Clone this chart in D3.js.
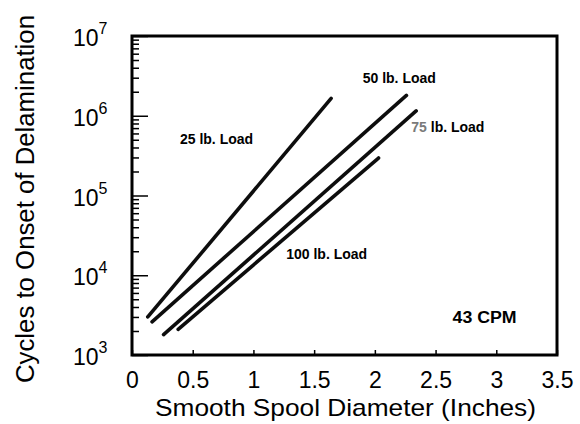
<!DOCTYPE html>
<html>
<head>
<meta charset="utf-8">
<script src="https://cdn.jsdelivr.net/npm/d3@7"></script>
<style>
    body { margin: 0; background: #fff; }
    svg { display: block; font-family: "Liberation Sans", Arial, Helvetica, sans-serif; }
    .axis text { fill: #000; }
    .load-label { font-weight: bold; font-size: 14px; }
</style>
</head>
<body>
<svg id="chart"></svg>
<script>
// Data (log y axis)
const loads = ["25 lb. Load", "50 lb. Load", "75 lb. Load", "100 lb. Load"];
const startDiameter = [0.13, 0.165, 0.26, 0.38];
const endDiameter = [1.64, 2.26, 2.34, 2.03];
const startCycles = [3000, 2600, 1800, 2100];
const endCycles = [1650000, 1800000, 1150000, 295000];

const xTicks = [0, 0.5, 1, 1.5, 2, 2.5, 3, 3.5];
const yDecades = [1e3, 1e4, 1e5, 1e6, 1e7];
const yExponents = ["3", "4", "5", "6", "7"];

class SpoolChart {
    constructor(_config) {
        this.config = {
            parentElement: _config.parentElement,
            containerWidth: _config.containerWidth || 580,
            containerHeight: _config.containerHeight || 424,
            margin: { top: 36, right: 23, bottom: 69, left: 132 },
        };
        this.initVis();
    }

    initVis() {
        let vis = this;

        vis.width = vis.config.containerWidth - vis.config.margin.left - vis.config.margin.right;
        vis.height = vis.config.containerHeight - vis.config.margin.top - vis.config.margin.bottom;

        vis.xScale = d3.scaleLinear().domain([0, 3.5]).range([0, vis.width]);
        vis.yScale = d3.scaleLog().domain([1e3, 1e7]).range([vis.height, 0]);

        vis.svg = d3.select(vis.config.parentElement)
            .attr("width", vis.config.containerWidth)
            .attr("height", vis.config.containerHeight);

        // slight blur, the lines in the scan are soft
        vis.svg.append("defs").append("filter")
            .attr("id", "soft")
            .append("feGaussianBlur")
            .attr("stdDeviation", 0.6);

        vis.chart = vis.svg.append("g")
            .attr("transform", `translate(${vis.config.margin.left},${vis.config.margin.top})`);

        vis.xAxisG = vis.chart.append("g")
            .attr("class", "axis x-axis")
            .attr("transform", `translate(0,${vis.height})`);

        vis.yAxisG = vis.chart.append("g").attr("class", "axis y-axis");

        // Axis titles (the scan is a bit wide, so stretch glyphs to its width)
        vis.svg.append("text")
            .attr("x", 155)
            .attr("y", 416)
            .attr("textLength", 381)
            .attr("lengthAdjust", "spacingAndGlyphs")
            .style("font-size", "24px")
            .text("Smooth Spool Diameter (Inches)");

        vis.svg.append("text")
            .attr("transform", "translate(34,383) rotate(-90)")
            .attr("textLength", 368)
            .attr("lengthAdjust", "spacingAndGlyphs")
            .style("font-size", "25px")
            .text("Cycles to Onset of Delamination");
    }

    updateVis() {
        let vis = this;

        vis.lines = loads.map((name, i) => ({
            name,
            points: [
                { d: startDiameter[i], c: startCycles[i] },
                { d: endDiameter[i], c: endCycles[i] },
            ],
        }));

        vis.line = d3.line()
            .x((p) => vis.xScale(p.d))
            .y((p) => vis.yScale(p.c));

        vis.renderVis();
    }

    renderVis() {
        let vis = this;

        // x axis: small inward ticks, labels below
        vis.xAxis = d3.axisBottom(vis.xScale)
            .tickValues(xTicks)
            .tickFormat((d) => d)
            .tickSize(-5)
            .tickPadding(17)
            .tickSizeOuter(0);
        vis.xAxisG.call(vis.xAxis);
        vis.xAxisG.select(".domain").remove();
        vis.xAxisG.selectAll("text").style("font-size", "23px");
        vis.xAxisG.selectAll("line").attr("stroke-width", 1.5);

        // y axis: log ticks drawn inside the frame
        const allTicks = vis.yScale.ticks();
        vis.yAxis = d3.axisRight(vis.yScale)
            .tickValues(allTicks)
            .tickFormat("")
            .tickSize(7)
            .tickSizeOuter(0);
        vis.yAxisG.call(vis.yAxis);
        vis.yAxisG.select(".domain").remove();
        vis.yAxisG.selectAll(".tick line").attr("stroke-width", 1.5);
        vis.yAxisG.selectAll(".tick")
            .filter((d) => yDecades.includes(d))
            .select("line")
            .attr("x2", 16);

        // decade labels as 10 with superscript
        const labels = vis.chart.selectAll(".y-label")
            .data(yDecades)
            .join("text")
            .attr("class", "y-label")
            .attr("x", -59)
            .attr("y", (d) => vis.yScale(d) + 10)
            .style("font-size", "23px");
        labels.append("tspan").text("10");
        labels.append("tspan")
            .attr("dy", -12)
            .style("font-size", "16px")
            .text((d, i) => yExponents[i]);

        // Frame
        vis.chart.append("rect")
            .attr("width", vis.width)
            .attr("height", vis.height)
            .attr("fill", "none")
            .attr("stroke", "#000")
            .attr("stroke-width", 3);

        // Load lines
        vis.chart.selectAll(".load-line")
            .data(vis.lines)
            .join("path")
            .attr("class", "load-line")
            .attr("d", (d) => vis.line(d.points))
            .attr("fill", "none")
            .attr("stroke", "#111")
            .attr("stroke-width", 3.6)
            .attr("stroke-linecap", "round")
            .attr("filter", "url(#soft)");

        // Annotations, placed in data units
        const notes = [
            { text: loads[0], d: 0.395, c: 4.4e5 },
            { text: loads[1], d: 1.9, c: 2.57e6 },
            { text: loads[3], d: 1.27, c: 1.6e4 },
        ];
        vis.chart.selectAll(".load-label")
            .data(notes)
            .join("text")
            .attr("class", "load-label")
            .attr("x", (d) => vis.xScale(d.d))
            .attr("y", (d) => vis.yScale(d.c))
            .text((d) => d.text);

        // 75 lb label: the digits are faded in the scan
        const lbl75 = vis.chart.append("text")
            .attr("class", "load-label")
            .attr("x", vis.xScale(2.3))
            .attr("y", vis.yScale(6.3e5));
        lbl75.append("tspan").attr("fill", "#7a7a7a").text("75");
        lbl75.append("tspan").text(" lb. Load");

        vis.chart.append("text")
            .attr("x", vis.xScale(2.64))
            .attr("y", vis.yScale(2500))
            .style("font-size", "16px")
            .style("font-weight", "bold")
            .attr("textLength", 64)
            .attr("lengthAdjust", "spacingAndGlyphs")
            .text("43 CPM");
    }
}

const chart = new SpoolChart({ parentElement: "#chart" });
chart.updateVis();
</script>
</body>
</html>
